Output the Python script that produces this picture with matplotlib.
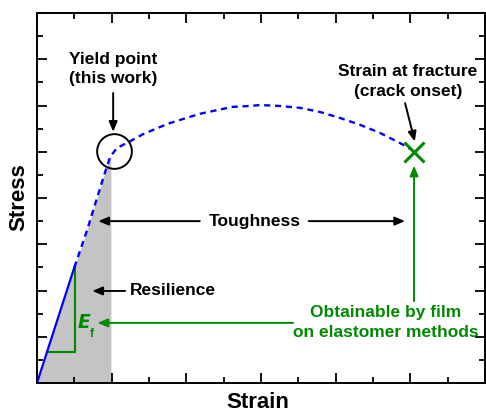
import numpy as np
import matplotlib.pyplot as plt
from matplotlib.ticker import MultipleLocator

plt.rcParams['font.family'] = ['Liberation Sans', 'DejaVu Sans']

# elastic part (solid) and the rest of the curve (dashed)
elastic_x = [0.0, 0.5]
elastic_y = [0.0, 2.5]
curve_x = [0.5, 0.67, 0.8, 0.91, 0.98, 1.07, 1.25, 1.42, 1.61, 1.78, 1.96, 2.18, 2.41, 2.62, 2.85,
           2.99, 3.25, 3.52, 3.79, 4.06, 4.33, 4.59, 4.86, 5.03]
curve_y = [2.5, 3.3, 3.98, 4.55, 4.89, 5.08, 5.23, 5.38, 5.51, 5.62, 5.71, 5.82, 5.90, 5.97, 5.99,
           6.01, 5.99, 5.95, 5.86, 5.73, 5.58, 5.41, 5.19, 5.03]
yield_pt = (1.03, 5.02)
fracture_pt = (5.05, 5.0)
shade_end = 0.99

blue = '#0000ff'
green = '#008a00'

fig = plt.figure(figsize=(4.86, 4.12), dpi=100)
ax = fig.add_axes([37/486, 29/412, 448/486, 370/412])
ax.set_xlim(0, 6)
ax.set_ylim(0, 8)

# shaded resilience area
all_x = np.array(elastic_x[:1] + curve_x)
all_y = np.array(elastic_y[:1] + curve_y)
xs = np.linspace(0, shade_end, 100)
ax.fill_between(xs, 0, np.interp(xs, all_x, all_y), color='#c4c4c4', lw=0, zorder=1)

ax.plot(elastic_x, elastic_y, color=blue, lw=1.6, zorder=3)
ax.plot(curve_x, curve_y, color=blue, lw=1.7, ls=(0, (2.6, 2.0)), zorder=3)

# modulus triangle
ax.plot([0.13, 0.51, 0.51], [0.67, 0.67, 2.55], color=green, lw=1.5, zorder=2)
ax.text(0.55, 1.3, 'E', color=green, fontsize=13.5, fontweight='bold', fontstyle='italic',
        ha='left', va='center', family=['DejaVu Sans'])
ax.text(0.70, 1.06, 'f', color=green, fontsize=8.5, fontweight='bold', ha='left', va='center')

# markers
ax.plot(*yield_pt, marker='o', ms=25, mfc='none', mec='black', mew=1.4, zorder=4)
ax.plot(*fracture_pt, marker='x', ms=14, mec=green, mew=2.2, zorder=4)

bold = dict(fontsize=12.5, fontweight='bold', ha='center', va='center', linespacing=1.4)
arr_k = dict(arrowstyle='-|>,head_length=0.6,head_width=0.25', color='black', lw=1.4, shrinkA=0, shrinkB=0)
arr_g = dict(arrowstyle='-|>,head_length=0.6,head_width=0.25', color=green, lw=1.4, shrinkA=0, shrinkB=0)

ax.text(1.02, 6.79, 'Yield point\n(this work)', **bold)
ax.annotate('', xy=(1.02, 5.43), xytext=(1.02, 6.27), arrowprops=arr_k)

ax.text(4.97, 6.52, 'Strain at fracture\n(crack onset)', **bold)
ax.annotate('', xy=(5.06, 5.22), xytext=(4.93, 6.05), arrowprops=arr_k)

ax.text(2.91, 3.5, 'Toughness', fontsize=12.5, fontweight='bold', ha='center', va='center')
ax.annotate('', xy=(0.82, 3.5), xytext=(2.18, 3.5), arrowprops=arr_k)
ax.annotate('', xy=(4.93, 3.5), xytext=(3.64, 3.5), arrowprops=arr_k)

ax.text(1.25, 1.99, 'Resilience', fontsize=12.5, fontweight='bold', ha='left', va='center')
ax.annotate('', xy=(0.74, 1.99), xytext=(1.18, 1.99), arrowprops=arr_k)

ax.text(4.67, 1.3, 'Obtainable by film\non elastomer methods', color=green,
        fontsize=12.5, fontweight='bold', ha='center', va='center', linespacing=1.4)
ax.annotate('', xy=(0.81, 1.3), xytext=(3.43, 1.3), arrowprops=arr_g)
ax.annotate('', xy=(5.05, 4.7), xytext=(5.05, 1.77), arrowprops=arr_g)

ax.set_xlabel('Strain', fontsize=16, fontweight='bold')
ax.set_ylabel('Stress', fontsize=16, fontweight='bold')
ax.xaxis.set_label_coords(0.493, -0.025)
ax.yaxis.set_label_coords(-0.018, 0.503)

ax.xaxis.set_major_locator(MultipleLocator(1))
ax.xaxis.set_minor_locator(MultipleLocator(0.5))
ax.yaxis.set_major_locator(MultipleLocator(1))
ax.yaxis.set_minor_locator(MultipleLocator(0.5))
ax.tick_params(which='both', direction='in', top=True, right=True,
               labelbottom=False, labelleft=False, width=1.3)
ax.tick_params(which='major', length=7)
ax.tick_params(which='minor', length=4.5)
for s in ax.spines.values():
    s.set_linewidth(1.4)

fig.savefig('out.png', dpi=100)
